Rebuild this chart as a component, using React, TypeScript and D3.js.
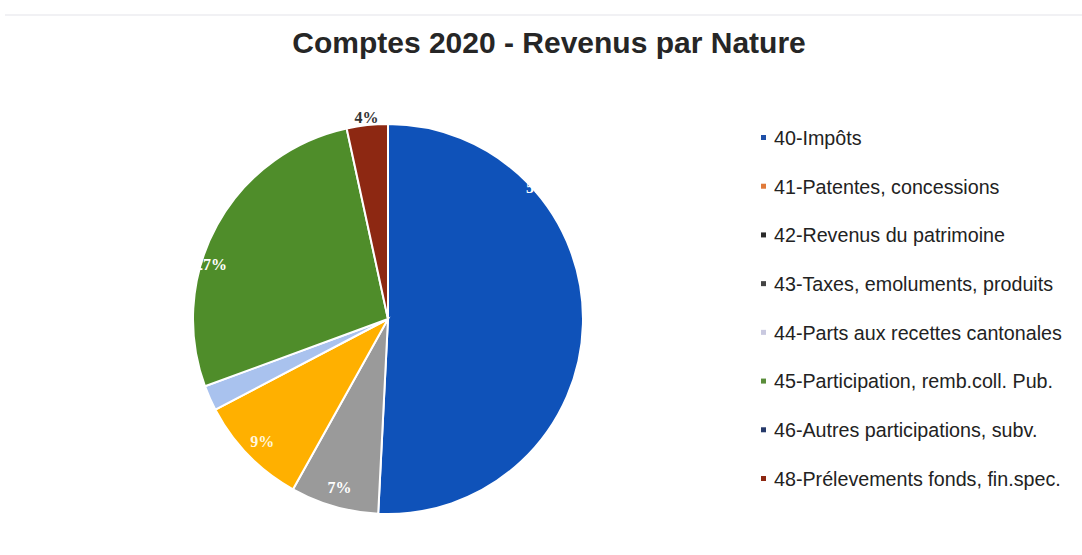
import React from 'react';
import * as d3 from 'd3';

const title = 'Comptes 2020 - Revenus par Nature';
const categories = [
  '40-Impôts',
  '41-Patentes, concessions',
  '42-Revenus du patrimoine',
  '43-Taxes, emoluments, produits',
  '44-Parts aux recettes cantonales',
  '45-Participation, remb.coll. Pub.',
  '46-Autres participations, subv.',
  '48-Prélevements fonds, fin.spec.',
];
const values = [50.8, 0, 7.3, 9.2, 2.1, 27.2, 0, 3.4];
const labels = ['51%', '', '7%', '9%', '', '27%', '', '4%'];
const colors = ['#0f52b9', '#e07a3a', '#9a9a9a', '#ffb000', '#a9c2ee', '#4f8d2a', '#263a6a', '#8d2812'];
const legendColors = ['#1f50a8', '#e07a3a', '#2a2a2a', '#444444', '#c9c9e0', '#5a8d3a', '#263a6a', '#8d2812'];
// label placement: fraction within slice angle, radius factor
const labelFrac = [0.27, 0.5, 0.5, 0.5, 0.5, 0.38, 0.5, 0.5];
const labelRad = [1.04, 0.9, 0.9, 0.9, 0.9, 0.95, 0.9, 1.04];
const labelFill = ['#ffffff', '#fff', '#ffffff', '#fff6dd', '#fff', '#ffffff', '#fff', '#333333'];

const W = 1082;
const H = 555;
const cx = 388;
const cy = 319;
const R = 195;

export default function App() {
  const pie = d3.pie<number>().value((d) => d).sort(null);
  const arcs = pie(values);
  const arc = d3.arc<d3.PieArcDatum<number>>().innerRadius(0).outerRadius(R);
  const legendY = d3.scalePoint<string>().domain(categories).range([138, 479]);

  return (
    <svg width={W} height={H} style={{ position: 'absolute', left: 0, top: 0, background: '#fff' }}
      fontFamily="'Liberation Sans', Arial, sans-serif">
      <line x1={5} x2={W} y1={15} y2={15} stroke="#f1f1f4" strokeWidth={2} />
      <text x={549} y={53} textAnchor="middle" fontSize={30} fontWeight="bold" fill="#262626">{title}</text>
      <g transform={`translate(${cx},${cy})`}>
        {arcs.map((a, i) => (
          <path key={i} d={arc(a) || ''} fill={colors[i]} stroke="#ffffff" strokeWidth={a.value > 0 ? 2 : 0} />
        ))}
        {arcs.map((a, i) => {
          if (!labels[i]) return null;
          const ang = a.startAngle + (a.endAngle - a.startAngle) * labelFrac[i];
          const r = R * labelRad[i];
          const x = Math.sin(ang) * r;
          const y = -Math.cos(ang) * r;
          return (
            <text key={'l' + i} x={x} y={y} dy="0.35em" textAnchor="middle" fontSize={16} fontWeight="bold"
              fontFamily="'Liberation Serif', 'DejaVu Serif', serif" fill={labelFill[i]}>{labels[i]}</text>
          );
        })}
      </g>
      <g>
        {categories.map((c, i) => (
          <g key={c} transform={`translate(0,${legendY(c)})`}>
            <rect x={761} y={-3} width={5} height={5} fill={legendColors[i]} />
            <text x={774} y={0} dy="0.35em" fontSize={19.7} fill="#222">{c}</text>
          </g>
        ))}
      </g>
    </svg>
  );
}
